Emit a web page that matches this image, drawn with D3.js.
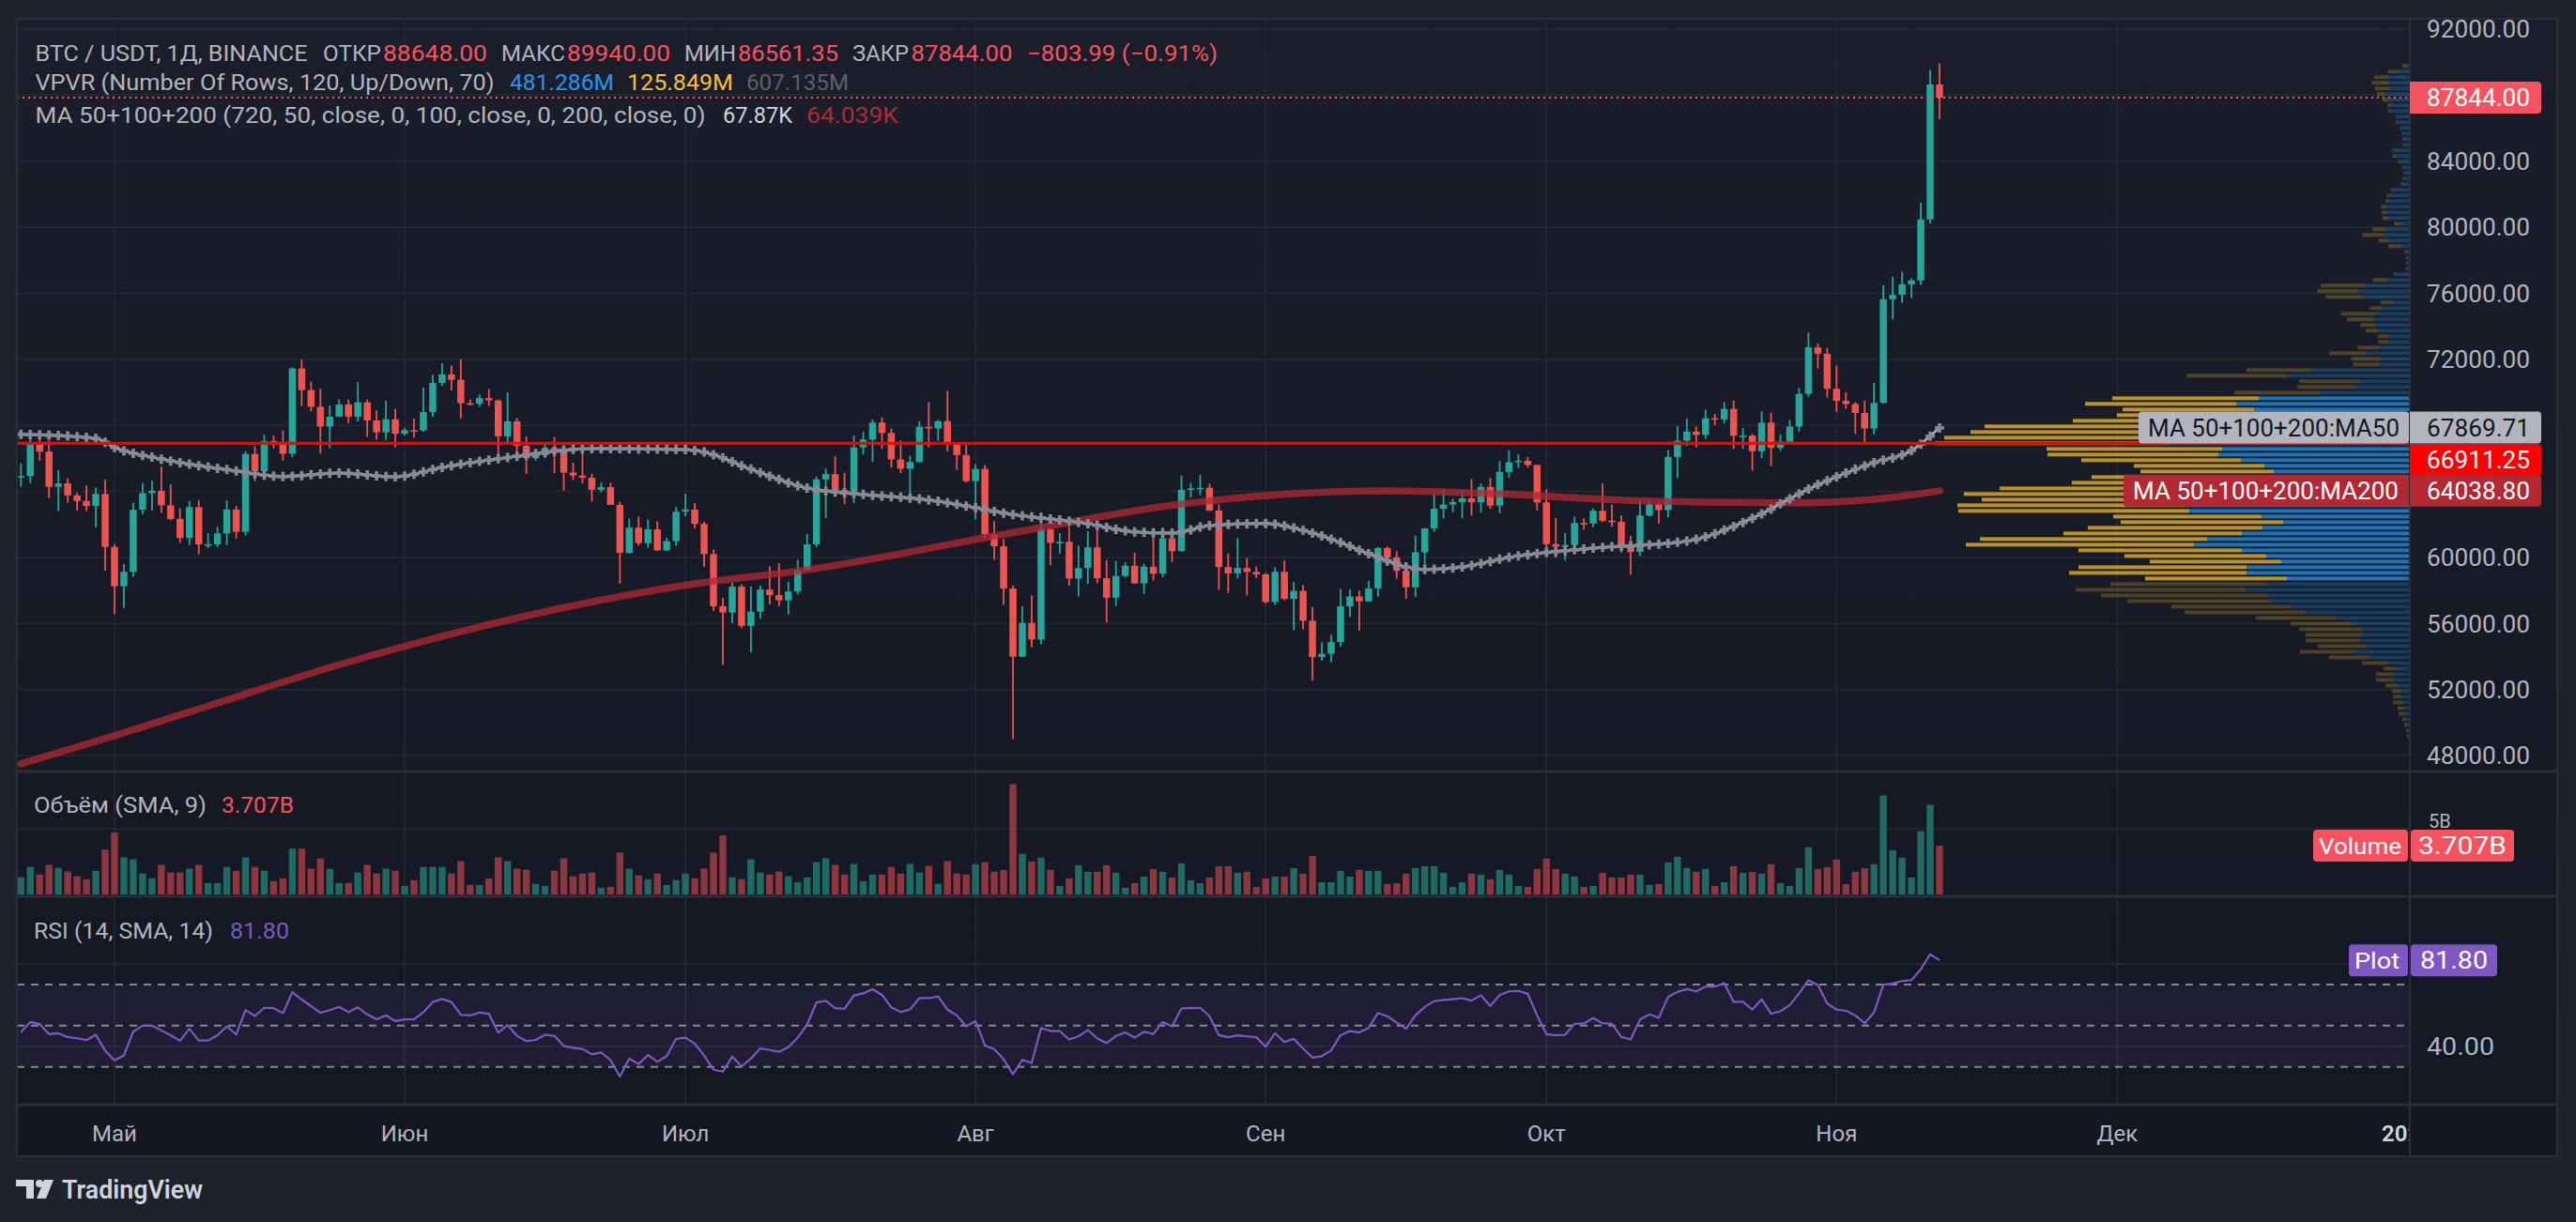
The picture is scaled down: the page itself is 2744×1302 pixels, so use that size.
<!DOCTYPE html>
<html>
<head>
<meta charset="utf-8">
<script src="https://cdn.jsdelivr.net/npm/d3@7"></script>
<style>
html, body { margin: 0; padding: 0; background: #1e222d; overflow: hidden; }
svg { display: block; }
</style>
</head>
<body>
<svg id="chart" width="2744" height="1302"></svg>
<script>

//////////////////////////////////////////////////////////////////////////
//  DATA
//////////////////////////////////////////////////////////////////////////

var startDate = "2024-04-21";
var firstOpen = 64900;

// daily closes, Apr 21 .. Nov 12 2024 (each bar opens at the prior close)
var closes = [
	64927, 66837, 66407, 64276, 64481, 63755, 63419, 63113, 63841, 60636,
	58254, 59123, 62889, 63891, 64031, 63161, 62334, 61187, 63049, 60792, 60793, 61448, 62901, 61552, 66267, 65231, 67051, 66940, 66278, 71446, 70136, 69122, 67929, 68527, 69265, 68518, 69394, 68296, 67578, 68364, 67491,
	67706, 67690, 68804, 70567, 71082, 70757, 69342, 69305, 69648, 69512, 67332, 68241, 66756, 66011, 66191, 66639, 66491, 65140, 64960, 64828, 64096, 64253, 63180, 60277, 61804, 60864, 61706, 60427, 60986, 62772,
	62900, 62029, 60203, 57042, 56662, 58233, 55857, 56715, 58052, 57717, 57400, 57934, 59224, 60792, 64724, 65044, 64087, 63987, 66661, 67139, 68165, 67532, 65936, 65372, 65777, 67912, 67813, 68255, 66819, 66201, 64620,
	65357, 61415, 60680, 58116, 53991, 56034, 55027, 61710, 60880, 60945, 58719, 59354, 60609, 58737, 57560, 58874, 59491, 58427, 59438, 59013, 61157, 60381, 64094, 64178, 64220, 62834, 59416, 59034, 59359, 59123, 58974,
	57301, 59132, 57487, 57971, 56160, 53962, 54160, 54869, 57042, 57635, 57339, 58127, 60571, 60005, 59182, 58192, 60309, 61759, 62947, 63201, 63348, 63578, 63339, 64262, 63143, 65173, 65769, 65858, 65602, 63327,
	60805, 60649, 60752, 62086, 62058, 62819, 62224, 62160, 60636, 60326, 62540, 63206, 62870, 66083, 67074, 67620, 67421, 68428, 68362, 69001, 67367, 67380, 66432, 68162, 66642, 67014, 67929, 69907, 72720, 72339, 70215,
	69482, 69289, 68742, 67811, 69359, 75639, 75904, 76545, 76778, 80474, 88648, 87844
];
var highs = [
	65700, 67233, 67208, 67075, 65294, 64789, 63923, 64362, 64224, 64734,
	60780, 59602, 63320, 64494, 64646, 65500, 64422, 62986, 63421, 63469, 61490, 61850, 63450, 63118, 66444, 66739, 67451, 67387, 67700, 71515, 71980, 70650, 70221, 69220, 69571, 69562, 70613, 69560, 68900, 69500, 69000,
	67860, 68409, 70288, 71063, 71758, 71625, 71997, 69560, 69860, 70195, 69560, 69999, 68449, 67320, 66450, 66946, 67288, 66571, 65735, 66484, 65066, 64525, 64523, 63369, 62362, 62487, 62293, 62190, 61197, 63058,
	63862, 63289, 62150, 60498, 57546, 58475, 58376, 58236, 58296, 59470, 59650, 58526, 59850, 61420, 64900, 65388, 66128, 65133, 67386, 67598, 68366, 68480, 67800, 67102, 66156, 68250, 69399, 68318, 70079, 66987, 66810,
	65659, 65596, 62198, 61117, 58305, 57039, 57700, 62745, 61744, 61470, 61858, 60711, 61578, 61800, 59849, 59790, 59700, 60284, 59618, 61396, 61820, 61400, 64955, 64513, 65000, 64481, 63213, 60234, 61166, 59960, 59462,
	59063, 59400, 59809, 58519, 58327, 56995, 54850, 55300, 58088, 58044, 57991, 58588, 60625, 60656, 60381, 59210, 61320, 61786, 63850, 64133, 63559, 64000, 64745, 64480, 64817, 65839, 66498, 66260, 66076, 65550,
	64130, 62392, 61469, 62484, 62370, 62972, 64478, 63200, 62543, 61321, 63417, 63480, 63285, 66500, 67950, 68424, 67939, 68969, 68694, 69400, 69500, 67836, 67472, 68850, 68771, 67454, 68332, 70270, 73620, 72961, 72700,
	71632, 70000, 69403, 69500, 70577, 76500, 76999, 77300, 76900, 81500, 89530, 89940
];
var lows = [
	64277, 64500, 65864, 63589, 62794, 63322, 62824, 62800, 61795, 59191,
	56552, 56937, 58848, 62599, 62822, 62700, 62261, 60877, 60750, 60187, 60550, 60630, 60749, 61142, 61330, 64600, 65107, 66600, 65857, 66060, 69162, 68850, 66300, 66622, 68500, 68128, 68230, 67300, 67125, 67118, 66670,
	67390, 67257, 67613, 68507, 70383, 70119, 68420, 69210, 69126, 69180, 66051, 66902, 66251, 65056, 65861, 66000, 65120, 64060, 64693, 64477, 63379, 63943, 63178, 58402, 60239, 60712, 60585, 60383, 60383, 60712,
	62497, 61752, 59419, 56771, 53485, 56020, 55723, 54260, 56289, 57157, 57050, 56542, 57756, 59218, 60632, 62373, 63854, 63238, 63300, 66222, 65777, 66574, 65441, 65107, 63426, 65750, 66677, 67066, 66428, 65302, 64530,
	62302, 61100, 59850, 57122, 49000, 53962, 54558, 54730, 59535, 60242, 58286, 57642, 58392, 58433, 56078, 57068, 58785, 58408, 57787, 58610, 58783, 59724, 60342, 63619, 63773, 62800, 58034, 57860, 58713, 57703, 58744,
	57201, 57128, 57415, 55606, 55643, 52550, 53745, 53653, 54591, 56386, 55567, 57324, 57632, 59517, 58696, 57493, 57610, 59174, 61555, 62350, 62758, 62357, 62538, 62700, 62947, 62670, 64819, 65422, 65432, 62856,
	60164, 59981, 59828, 60459, 61675, 61824, 62128, 61860, 60300, 58946, 60087, 62487, 62050, 62422, 64800, 66750, 66666, 67177, 68010, 68100, 66560, 66571, 65260, 66000, 65521, 66439, 66913, 67618, 69730, 71436, 69685,
	68820, 69016, 67478, 66835, 67457, 69322, 74416, 75425, 75714, 76500, 80216, 86561
];

// daily volume, billions USDT
var volumes = [
	1.30, 2.10, 1.52, 2.25, 2.03, 1.74, 1.38, 1.16, 1.81, 3.41,
	4.71, 2.83, 2.68, 1.59, 1.23, 2.25, 1.67, 1.67, 1.96, 2.25,
	0.87, 0.87, 2.10, 1.81, 2.83, 2.10, 1.81, 1.01, 1.23, 3.48,
	3.48, 1.96, 2.75, 1.96, 0.87, 0.87, 1.67, 2.25, 1.59, 1.96,
	1.81, 0.65, 1.09, 2.10, 2.10, 2.10, 1.59, 2.54, 0.72, 0.72,
	1.23, 2.83, 2.54, 1.96, 1.88, 0.80, 0.65, 1.81, 2.75, 1.38,
	1.59, 1.67, 0.51, 0.58, 3.19, 1.96, 1.45, 1.16, 1.59, 0.72,
	1.09, 1.59, 1.23, 1.96, 3.19, 4.49, 1.30, 1.16, 2.68, 1.67,
	1.52, 1.74, 1.38, 0.94, 1.30, 2.46, 2.75, 2.25, 1.52, 2.32,
	1.01, 1.52, 1.52, 2.10, 1.59, 2.32, 1.67, 2.17, 0.80, 2.54,
	1.59, 1.52, 2.31, 2.45, 1.73, 1.87, 8.40, 3.09, 2.51, 2.80,
	1.87, 0.65, 1.22, 2.22, 1.72, 1.72, 2.22, 1.65, 0.50, 0.86,
	1.36, 1.94, 1.72, 1.29, 2.37, 1.08, 0.86, 1.29, 2.15, 2.15,
	1.65, 1.72, 0.57, 1.22, 1.36, 1.36, 2.01, 1.58, 2.94, 0.93,
	0.93, 1.79, 1.36, 1.87, 1.79, 1.79, 0.79, 0.86, 1.58, 2.01,
	2.15, 2.15, 1.65, 0.57, 0.93, 1.58, 1.51, 1.15, 1.87, 1.51,
	0.65, 0.57, 1.94, 2.73, 1.94, 1.58, 1.36, 0.57, 0.65, 1.65,
	1.29, 1.29, 1.51, 1.51, 0.72, 0.79, 2.44, 2.87, 2.01, 1.72,
	1.94, 0.65, 0.93, 2.15, 1.65, 1.72, 1.58, 2.30, 0.86, 0.65,
	2.01, 3.59, 1.94, 2.08, 2.66, 0.79, 1.72, 2.01, 2.30, 7.54,
	3.37, 2.80, 1.29, 4.81, 6.82, 3.71
];

// RSI(14), one value per bar
var rsiValues = [
	46.9, 51.8, 50.8, 45.9, 46.3, 44.5, 43.9, 43.0, 45.6, 37.8,
	33.2, 35.6, 47.1, 50.0, 50.0, 47.7, 45.4, 42.7, 48.5, 42.8,
	42.8, 45.4, 49.7, 45.7, 57.6, 54.7, 58.7, 58.5, 56.1, 66.3,
	62.7, 59.5, 56.3, 57.6, 59.2, 56.6, 58.9, 55.5, 53.1, 55.0,
	52.3, 53.1, 53.1, 56.6, 61.5, 63.0, 61.5, 55.3, 55.0, 56.4,
	55.8, 46.6, 50.3, 45.1, 42.5, 43.1, 45.6, 45.1, 40.1, 39.3,
	38.7, 36.1, 37.0, 33.2, 25.3, 34.0, 31.4, 35.8, 32.4, 35.2,
	43.6, 44.2, 41.3, 35.5, 28.6, 27.7, 35.0, 30.2, 34.0, 39.0,
	38.2, 37.3, 39.6, 44.2, 50.5, 61.3, 62.1, 58.5, 58.2, 64.7,
	65.7, 67.7, 65.0, 58.9, 56.6, 57.9, 63.4, 63.4, 64.2, 57.8,
	55.0, 49.7, 52.2, 40.4, 38.6, 33.7, 26.4, 33.4, 31.9, 48.9,
	47.4, 47.4, 43.3, 44.8, 47.9, 43.9, 41.5, 45.0, 46.7, 44.2,
	47.1, 46.0, 51.8, 49.7, 58.4, 58.5, 58.7, 54.6, 45.4, 44.4,
	45.3, 44.8, 44.4, 39.8, 46.3, 42.1, 43.6, 39.0, 34.5, 35.2,
	38.0, 45.4, 47.4, 46.7, 48.9, 56.2, 54.6, 51.5, 48.5, 55.0,
	59.1, 61.9, 62.5, 62.9, 63.4, 62.2, 64.8, 59.6, 64.9, 66.7,
	66.9, 65.5, 55.0, 45.9, 45.3, 45.6, 50.9, 51.1, 53.7, 51.2,
	50.9, 44.5, 43.3, 53.0, 55.5, 53.8, 64.0, 66.4, 67.8, 66.7,
	69.0, 69.0, 70.7, 61.6, 61.6, 57.8, 62.9, 55.8, 57.0, 60.0,
	65.7, 72.1, 69.8, 60.8, 57.8, 57.3, 55.0, 51.2, 56.4, 69.9,
	70.5, 71.7, 72.1, 77.4, 84.7, 81.8
];

// moving averages, read at points along the lines
var ma50Dates = ["2024-04-21", "2024-04-29", "2024-05-01", "2024-05-06", "2024-05-14", "2024-05-19", "2024-05-25", "2024-05-31",
	"2024-06-05", "2024-06-12", "2024-06-21", "2024-07-01", "2024-07-03", "2024-07-08", "2024-07-14", "2024-07-20", "2024-07-27",
	"2024-08-05", "2024-08-13", "2024-08-18", "2024-08-22", "2024-08-26", "2024-09-01", "2024-09-05", "2024-09-09", "2024-09-12",
	"2024-09-18", "2024-09-22", "2024-09-27", "2024-10-06", "2024-10-16", "2024-10-23", "2024-10-29", "2024-11-05", "2024-11-09", "2024-11-12"];
var ma50Values = [67460, 67210, 66660, 65960, 65240, 64900, 65110, 64880,
	65450, 66050, 66590, 66530, 66380, 65340, 64200, 63820, 63480,
	62600, 62040, 61550, 61470, 61930, 62060, 61640, 60900, 60220,
	59270, 59420, 60000, 60560, 60990, 62370, 64140, 65740, 66470, 67869.71];

var ma200Dates = ["2024-04-21", "2024-05-01", "2024-05-11", "2024-05-25", "2024-06-12", "2024-07-02", "2024-07-14", "2024-08-05",
	"2024-08-23", "2024-09-01", "2024-09-14", "2024-09-27", "2024-10-07", "2024-10-17", "2024-10-27", "2024-11-05", "2024-11-12"];
var ma200Values = [47500, 49200, 51000, 53500, 56200, 58400, 59250, 61500,
	63230, 63750, 64030, 63830, 63520, 63350, 63300, 63520, 64038.80];

// visible range volume profile, 120 rows from the top price down
var vpHigh = 89940, vpLow = 49000;
var valueAreaHigh = 69811, valueAreaLow = 58552;
var vpUp = [
	3.0, 11.4, 23.5, 22.7, 20.8, 26.5, 22.7, 19.7, 20.8, 15.2,
	14.0, 9.5, 7.6, 5.7, 6.4, 17.8, 15.2, 11.4, 7.6, 5.7,
	6.4, 7.6, 18.9, 21.6, 22.7, 24.6, 24.6, 22.7, 10.2, 25.4,
	26.5, 22.7, 9.5, 3.8, 3.0, 3.0, 3.8, 15.2, 24.6, 47.3,
	54.9, 50.0, 17.0, 30.3, 37.9, 37.9, 36.0, 34.1, 22.7, 22.7,
	32.2, 47.3, 32.2, 32.2, 104.5, 130.2, 52.7, 59.6, 95, 161,
	185, 166, 180, 190, 230, 240, 250, 260, 200, 204,
	180, 155, 145, 171, 180, 220, 240, 230, 240, 235,
	158, 135, 157, 179, 216, 230, 179, 153, 137, 174,
	174, 131, 154, 176, 151, 147, 128, 112, 78, 61,
	49, 51, 53, 46, 59, 44, 23, 13, 18, 17,
	13, 9, 9, 8, 6, 6, 4, 3, 2, 1.5
];
var vpDown = [
	5.3, 12.1, 14.4, 17.8, 16.3, 8.3, 6.5, 3.8, 2.7, 0,
	1.2, 0.7, 0.7, 1.9, 1.2, 1.1, 3.0, 1.1, 0.7, 0.7,
	1.2, 1.9, 1.2, 3.0, 3.1, 5.7, 5.7, 6.5, 6.8, 14.4,
	23.9, 10.6, 13.6, 1.9, 0.8, 0.8, 0.7, 1.8, 15.2, 47.4,
	43.6, 39.8, 14.4, 12.1, 35.6, 29.1, 17.0, 12.5, 11.4, 11.4,
	23.5, 38.7, 30.3, 28.4, 69.5, 107.4, 65.1, 60.4, 92, 156,
	161, 140, 132, 169, 223, 228, 246, 246, 187, 182,
	170, 139, 142, 168, 180, 217, 235, 226, 242, 246,
	158, 173, 186, 190, 242, 243, 174, 151, 140, 179,
	189, 151, 165, 180, 178, 154, 126, 128, 86, 66,
	69, 60, 58, 52, 58, 42, 28, 15, 18, 19,
	13, 10, 9, 10, 7, 6, 4, 3, 2, 1.5
];

var levelPrice = 66911.25;   // horizontal line drawn by the user
var lastPrice = 87844.00;

var priceTicks = [48000, 52000, 56000, 60000, 64000, 68000, 72000, 76000, 80000, 84000, 88000, 92000];
var monthDates = ["2024-05-01", "2024-06-01", "2024-07-01", "2024-08-01", "2024-09-01", "2024-10-01", "2024-11-01", "2024-12-01", "2025-01-01"];
var monthLabels = ["Май", "Июн", "Июл", "Авг", "Сен", "Окт", "Ноя", "Дек", "2025"];


//////////////////////////////////////////////////////////////////////////
//  LAYOUT
//////////////////////////////////////////////////////////////////////////

var W = 2744, H = 1302;
var frameL = 18, frameR = 2724, axisX = 2567, frameT = 20, frameB = 1232;
var mainBottom = 822, volBottom = 955, rsiBottom = 1177;

var FONT = "Roboto, 'Noto Sans', 'Liberation Sans', sans-serif";
var TXT = "#b2b5be", GRID = "#242835", BORDER = "#2a2e39";
var UP = "#26a69a", DOWN = "#ef5350";

var parseDay = d3.utcParse("%Y-%m-%d");
var day0 = parseDay(startDate);

var bars = closes.map(function(c, i) {
	return {
		date: d3.utcDay.offset(day0, i),
		open: i === 0 ? firstOpen : closes[i - 1],
		high: highs[i],
		low: lows[i],
		close: c,
		vol: volumes[i],
		rsi: rsiValues[i]
	};
});

var x = d3.scaleUtc()
	.domain([bars[0].date, bars[bars.length - 1].date])
	.range([22.3, 2066]);
var y = d3.scaleLinear().domain([48000, 92000]).range([805, 31]);
var volY = d3.scaleLinear().domain([0, 5]).range([953, 883]);
var rsiY = d3.scaleLinear().domain([30, 70]).range([1136.7, 1049]);

var svg = d3.select("#chart");
var defs = svg.append("defs");

var grad = defs.append("linearGradient").attr("id", "paneBg")
	.attr("x1", 0).attr("y1", 0).attr("x2", 0).attr("y2", 1);
grad.append("stop").attr("offset", "0%").attr("stop-color", "#1a1e2a");
grad.append("stop").attr("offset", "100%").attr("stop-color", "#131722");

function addClip(id, x0, y0, x1, y1) {
	defs.append("clipPath").attr("id", id).append("rect")
		.attr("x", x0).attr("y", y0).attr("width", x1 - x0).attr("height", y1 - y0);
}
addClip("clipMain", frameL, frameT, axisX, mainBottom);
addClip("clipVol", frameL, mainBottom, axisX, volBottom);
addClip("clipRsi", frameL, volBottom, axisX, rsiBottom);
addClip("clipTime", frameL, rsiBottom, axisX - 1, frameB);

function addText(g, px, py, str, color, size, len, anchor) {
	var t = g.append("text")
		.attr("x", px).attr("y", py).attr("dy", "0.36em")
		.attr("fill", color).attr("font-size", size)
		.attr("font-family", FONT)
		.text(str);
	if (anchor) t.attr("text-anchor", anchor);
	if (len) t.attr("textLength", len).attr("lengthAdjust", "spacingAndGlyphs");
	return t;
}

// backgrounds
svg.append("rect").attr("width", W).attr("height", H).attr("fill", "#1e222d");
svg.append("rect").attr("x", frameL).attr("y", frameT)
	.attr("width", frameR - frameL).attr("height", frameB - frameT)
	.attr("fill", "url(#paneBg)");


//////////////////////////////////////////////////////////////////////////
//  GRID
//////////////////////////////////////////////////////////////////////////

var grid = svg.append("g").attr("stroke", GRID).attr("stroke-width", 1.6);

grid.selectAll(".hgrid").data(priceTicks).enter().append("line")
	.attr("x1", frameL).attr("x2", axisX)
	.attr("y1", function(d) { return y(d); })
	.attr("y2", function(d) { return y(d); });

grid.append("line").attr("x1", frameL).attr("x2", axisX).attr("y1", volY(5)).attr("y2", volY(5));
[80, 40].forEach(function(v) {
	grid.append("line").attr("x1", frameL).attr("x2", axisX).attr("y1", rsiY(v)).attr("y2", rsiY(v));
});

grid.selectAll(".vgrid").data(monthDates.slice(0, 8)).enter().append("line")
	.attr("x1", function(d) { return x(parseDay(d)); })
	.attr("x2", function(d) { return x(parseDay(d)); })
	.attr("y1", frameT).attr("y2", rsiBottom);


//////////////////////////////////////////////////////////////////////////
//  MAIN PANE
//////////////////////////////////////////////////////////////////////////

var mainG = svg.append("g").attr("clip-path", "url(#clipMain)");

// volume profile, anchored on the price scale
var rowH = (vpHigh - vpLow) / vpUp.length;
var vpW = d3.scaleLinear().domain([0, 506]).range([0, 506]);
var vpG = mainG.append("g");
vpUp.forEach(function(u, k) {
	var pTop = vpHigh - k * rowH;
	var mid = pTop - rowH / 2;
	var inVA = mid <= valueAreaHigh && mid >= valueAreaLow;
	var yTop = y(pTop) + 1;
	var h = Math.abs(y(pTop - rowH) - y(pTop)) - 2;
	var wu = vpW(u), wd = vpW(vpDown[k]);
	vpG.append("rect").attr("x", axisX - wu).attr("y", yTop).attr("width", wu).attr("height", h)
		.attr("fill", inVA ? "rgba(33,150,243,0.72)" : "rgba(33,150,243,0.28)");
	if (wd > 0) {
		vpG.append("rect").attr("x", axisX - wu - wd).attr("y", yTop).attr("width", wd).attr("height", h)
			.attr("fill", inVA ? "rgba(251,192,45,0.72)" : "rgba(251,192,45,0.24)");
	}
});

// candles
var bodyW = 7.5;
var candles = mainG.selectAll(".candle").data(bars).enter().append("g").attr("class", "candle");
candles.append("line")
	.attr("x1", function(d) { return x(d.date); })
	.attr("x2", function(d) { return x(d.date); })
	.attr("y1", function(d) { return y(d.high); })
	.attr("y2", function(d) { return y(d.low); })
	.attr("stroke", function(d) { return d.close >= d.open ? UP : DOWN; })
	.attr("stroke-width", 1.8);
candles.append("rect")
	.attr("x", function(d) { return x(d.date) - bodyW / 2; })
	.attr("width", bodyW)
	.attr("y", function(d) { return y(Math.max(d.open, d.close)); })
	.attr("height", function(d) { return Math.max(1.6, Math.abs(y(d.open) - y(d.close))); })
	.attr("fill", function(d) { return d.close >= d.open ? UP : DOWN; });

// MA200
var ma200 = ma200Dates.map(function(d, i) { return [parseDay(d), ma200Values[i]]; });
var maLine = d3.line()
	.x(function(d) { return x(d[0]); })
	.y(function(d) { return y(d[1]); })
	.curve(d3.curveMonotoneX);
mainG.append("path").attr("d", maLine(ma200))
	.attr("fill", "none").attr("stroke", "rgba(178,40,51,0.75)")
	.attr("stroke-width", 7.5).attr("stroke-linecap", "round");

// MA50 with cross markers on every bar
var ma50 = ma50Dates.map(function(d, i) { return [parseDay(d), ma50Values[i]]; });
var ma50Path = mainG.append("path").attr("d", maLine(ma50))
	.attr("fill", "none").attr("stroke", "#a3a6af").attr("stroke-width", 3);

var pathNode = ma50Path.node();
var pathLen = pathNode.getTotalLength();
var pathPts = [];
for (var s = 0; s <= pathLen; s += 1) pathPts.push(pathNode.getPointAtLength(s));
function yOnMa50(px) {
	var best = pathPts[0];
	for (var i = 1; i < pathPts.length; i++) {
		if (Math.abs(pathPts[i].x - px) < Math.abs(best.x - px)) best = pathPts[i];
	}
	return best.y;
}
mainG.append("g").selectAll("path").data(bars).enter().append("path")
	.attr("d", function(d) {
		var cx = x(d.date), cy = yOnMa50(cx);
		return "M" + (cx - 5) + "," + cy + "H" + (cx + 5) + "M" + cx + "," + (cy - 5) + "V" + (cy + 5);
	})
	.attr("stroke", "#878a94").attr("stroke-width", 3.6);

// horizontal level and last price line
mainG.append("line").attr("x1", frameL).attr("x2", axisX)
	.attr("y1", y(levelPrice)).attr("y2", y(levelPrice))
	.attr("stroke", "#ff0000").attr("stroke-width", 3.4);
mainG.append("line").attr("x1", frameL).attr("x2", axisX)
	.attr("y1", y(lastPrice)).attr("y2", y(lastPrice))
	.attr("stroke", "#f7525f").attr("stroke-width", 2).attr("stroke-dasharray", "2,4");


//////////////////////////////////////////////////////////////////////////
//  VOLUME PANE
//////////////////////////////////////////////////////////////////////////

var volG = svg.append("g").attr("clip-path", "url(#clipVol)");
volG.selectAll("rect").data(bars).enter().append("rect")
	.attr("x", function(d) { return x(d.date) - 3.7; })
	.attr("width", 7.4)
	.attr("y", function(d) { return volY(d.vol); })
	.attr("height", function(d) { return volY(0) - volY(d.vol); })
	.attr("fill", function(d) { return d.close >= d.open ? "#1f6a63" : "#8e3640"; });


//////////////////////////////////////////////////////////////////////////
//  RSI PANE
//////////////////////////////////////////////////////////////////////////

var rsiG = svg.append("g").attr("clip-path", "url(#clipRsi)");
rsiG.append("rect").attr("x", frameL).attr("width", axisX - frameL)
	.attr("y", rsiY(70)).attr("height", rsiY(30) - rsiY(70))
	.attr("fill", "rgba(126,87,194,0.1)");
[70, 50, 30].forEach(function(v) {
	rsiG.append("line").attr("x1", frameL).attr("x2", axisX)
		.attr("y1", rsiY(v)).attr("y2", rsiY(v))
		.attr("stroke", "#868993").attr("stroke-width", 2).attr("stroke-dasharray", "8,7");
});
rsiG.append("path")
	.attr("d", d3.line()
		.x(function(d) { return x(d.date); })
		.y(function(d) { return rsiY(d.rsi); })(bars))
	.attr("fill", "none").attr("stroke", "#7e57c2").attr("stroke-width", 2.2)
	.attr("stroke-linejoin", "round");


//////////////////////////////////////////////////////////////////////////
//  SEPARATORS, AXES
//////////////////////////////////////////////////////////////////////////

var sep = svg.append("g").attr("stroke", BORDER);
[mainBottom, volBottom, rsiBottom].forEach(function(yy) {
	sep.append("line").attr("x1", frameL).attr("x2", frameR).attr("y1", yy).attr("y2", yy).attr("stroke-width", 3);
});
sep.append("line").attr("x1", axisX).attr("x2", axisX).attr("y1", frameT).attr("y2", frameB).attr("stroke-width", 2);
sep.append("rect").attr("x", frameL).attr("y", frameT).attr("width", frameR - frameL).attr("height", frameB - frameT)
	.attr("fill", "none").attr("stroke-width", 2);

var axisG = svg.append("g");
var labelX = 2585;
priceTicks.forEach(function(p) {
	addText(axisG, labelX, y(p), d3.format(".2f")(p), TXT, 26, 110);
});
addText(axisG, labelX + 2, volY(5) - 8, "5B", TXT, 20);
addText(axisG, labelX, rsiY(40), "40.00", TXT, 26, 72);

var timeG = svg.append("g").attr("clip-path", "url(#clipTime)");
monthDates.forEach(function(d, i) {
	var t = addText(timeG, x(parseDay(d)), 1207, monthLabels[i], TXT, 24, null, "middle");
	if (i === monthDates.length - 1) t.attr("fill", "#d1d4dc").attr("font-weight", 600);
});


//////////////////////////////////////////////////////////////////////////
//  PRICE SCALE LABELS
//////////////////////////////////////////////////////////////////////////

var boxG = svg.append("g");
var boxH = 34;
function valueBox(yc, fill, str, color) {
	boxG.append("path")
		.attr("d", "M" + axisX + "," + (yc - boxH / 2) + "H2703a4,4 0 0 1 4,4V" + (yc + boxH / 2 - 4) +
			"a4,4 0 0 1 -4,4H" + axisX + "Z")
		.attr("fill", fill);
	addText(boxG, labelX, yc, str, color, 26, 110);
}
function nameBox(x0, yc, fill, str, color, len) {
	boxG.append("rect").attr("x", x0).attr("y", yc - boxH / 2).attr("width", axisX - 1 - x0).attr("height", boxH)
		.attr("rx", 4).attr("fill", fill);
	addText(boxG, x0 + 10, yc, str, color, 26, len);
}

var yLast = y(lastPrice);
var yMa50 = y(ma50Values[ma50Values.length - 1]);
var yMa200 = y(ma200Values[ma200Values.length - 1]);
var yLevel = yMa50 + boxH + 0.5;   // pushed below the MA50 tag so they don't overlap

valueBox(yLast, "#f7525f", d3.format(".2f")(lastPrice), "#ffffff");
nameBox(2278, yMa50, "#b2b5be", "MA 50+100+200:MA50", "#131722", 268);
valueBox(yMa50, "#b2b5be", d3.format(".2f")(ma50Values[ma50Values.length - 1]), "#131722");
valueBox(yLevel, "#ff0000", d3.format(".2f")(levelPrice), "#ffffff");
nameBox(2262, yMa200, "#b22833", "MA 50+100+200:MA200", "#ffffff", 283);
valueBox(yMa200, "#b22833", d3.format(".2f")(ma200Values[ma200Values.length - 1]), "#ffffff");

// volume and RSI tags
var lastBar = bars[bars.length - 1];
var yVolTag = volY(lastBar.vol);
boxG.append("rect").attr("x", 2464).attr("y", yVolTag - 17).attr("width", 101).attr("height", 34).attr("rx", 4).attr("fill", "#f7525f");
addText(boxG, 2470, yVolTag, "Volume", "#ffffff", 24, 88);
boxG.append("rect").attr("x", axisX + 1).attr("y", yVolTag - 17).attr("width", 110).attr("height", 34).attr("rx", 4).attr("fill", "#f7525f");
addText(boxG, 2576, yVolTag, "3.707B", "#ffffff", 26, 94);

var yRsiTag = rsiY(lastBar.rsi);
boxG.append("rect").attr("x", 2502).attr("y", yRsiTag - 17).attr("width", 63).attr("height", 34).attr("rx", 4).attr("fill", "#7e57c2");
addText(boxG, 2508, yRsiTag, "Plot", "#ffffff", 24, 48);
boxG.append("rect").attr("x", axisX + 1).attr("y", yRsiTag - 17).attr("width", 92).attr("height", 34).attr("rx", 4).attr("fill", "#7e57c2");
addText(boxG, 2578, yRsiTag, "81.80", "#ffffff", 26, 72);


//////////////////////////////////////////////////////////////////////////
//  LEGENDS
//////////////////////////////////////////////////////////////////////////

var RED = "#f7525f";
var leg = svg.append("g");
addText(leg, 37.5, 57, "BTC / USDT, 1Д, BINANCE", TXT, 23, 290);
addText(leg, 344, 57, "ОТКР", TXT, 23, 62);
addText(leg, 408, 57, "88648.00", RED, 23, 111);
addText(leg, 534, 57, "МАКС", TXT, 23, 68);
addText(leg, 604, 57, "89940.00", RED, 23, 110);
addText(leg, 729, 57, "МИН", TXT, 23, 55);
addText(leg, 786, 57, "86561.35", RED, 23, 107);
addText(leg, 908, 57, "ЗАКР", TXT, 23, 60);
addText(leg, 970.5, 57, "87844.00", RED, 23, 108);
addText(leg, 1094, 57, "−803.99 (−0.91%)", RED, 23, 203);

addText(leg, 37.5, 88, "VPVR (Number Of Rows, 120, Up/Down, 70)", TXT, 23, 489);
addText(leg, 543, 88, "481.286M", "#2196f3", 23, 111);
addText(leg, 668, 88, "125.849M", "#fbc02d", 23, 113);
addText(leg, 795, 88, "607.135M", "#5d606b", 23, 109);

addText(leg, 37.5, 123, "MA 50+100+200 (720, 50, close, 0, 100, close, 0, 200, close, 0)", TXT, 23, 714);
addText(leg, 770, 123, "67.87K", "#d1d4dc", 23, 74);
addText(leg, 859, 123, "64.039K", "#b22833", 23, 98);

addText(leg, 36, 858, "Объём (SMA, 9)", TXT, 23, 184);
addText(leg, 236, 858, "3.707B", RED, 23, 77);

addText(leg, 36, 992, "RSI (14, SMA, 14)", TXT, 23, 191);
addText(leg, 245, 992, "81.80", "#7e57c2", 23, 63);

// TradingView mark
var logo = svg.append("g").attr("fill", "#d1d4dc");
logo.append("path").attr("d", "M17,1257H36V1277H28V1264H17Z");
logo.append("circle").attr("cx", 42).attr("cy", 1261).attr("r", 4);
logo.append("path").attr("d", "M47,1257H57L49,1277H39Z");
addText(logo, 66, 1267, "TradingView", "#d1d4dc", 27, 150).attr("font-weight", 600);

</script>
</body>
</html>
